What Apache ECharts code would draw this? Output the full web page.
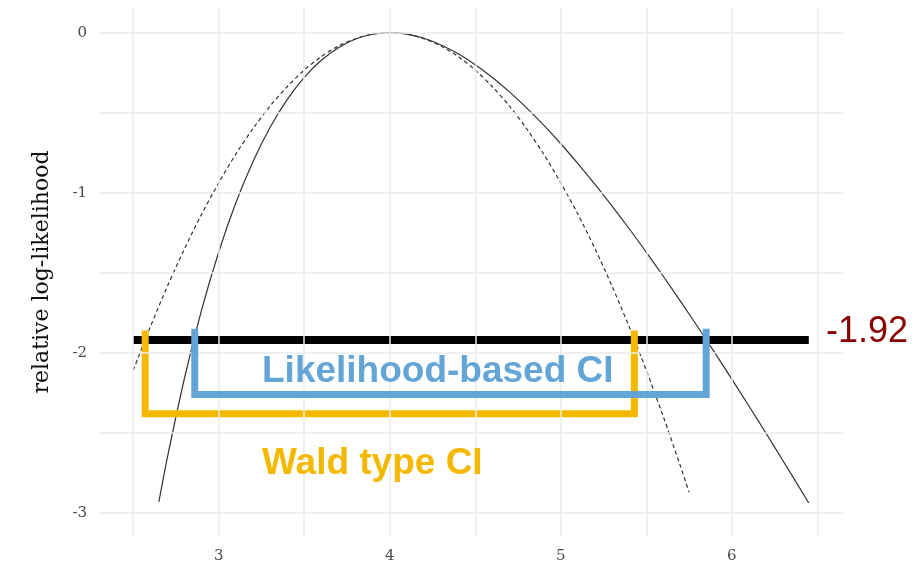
<!DOCTYPE html>
<html>
<head>
<meta charset="utf-8">
<script src="https://cdn.jsdelivr.net/npm/echarts@6/dist/echarts.min.js"></script>
<style>
  html, body { margin: 0; padding: 0; background: #fff; }
  #chart { width: 920px; height: 568px; }
</style>
</head>
<body>
<div id="chart"></div>
<script>
// Relative log-likelihood profile (solid)
const profileX = [2.65, 2.7, 2.8, 2.9, 3.0, 3.1, 3.2, 3.3, 3.4, 3.5, 3.6, 3.7, 3.8, 3.9, 4.0, 4.1, 4.2, 4.3, 4.4, 4.5, 4.6, 4.7, 4.8, 4.9, 5.0, 5.1, 5.2, 5.3, 5.4, 5.5, 5.6, 5.7, 5.8, 5.9, 6.0, 6.1, 6.2, 6.3, 6.45];
const profileY = [-2.931, -2.653, -2.157, -1.732, -1.370, -1.063, -0.806, -0.593, -0.419, -0.280, -0.173, -0.094, -0.040, -0.010, 0, -0.009, -0.035, -0.077, -0.132, -0.200, -0.280, -0.370, -0.470, -0.578, -0.694, -0.818, -0.948, -1.084, -1.225, -1.372, -1.523, -1.678, -1.837, -1.999, -2.164, -2.332, -2.502, -2.675, -2.938];

// Quadratic approximation (dashed)
const quadX = [2.5, 2.6, 2.7, 2.8, 2.9, 3.0, 3.1, 3.2, 3.3, 3.4, 3.5, 3.6, 3.7, 3.8, 3.9, 4.0, 4.1, 4.2, 4.3, 4.4, 4.5, 4.6, 4.7, 4.8, 4.9, 5.0, 5.1, 5.2, 5.3, 5.4, 5.5, 5.6, 5.7, 5.75];
const quadY = [-2.109, -1.838, -1.584, -1.350, -1.134, -0.938, -0.759, -0.600, -0.459, -0.338, -0.234, -0.150, -0.084, -0.038, -0.009, 0, -0.009, -0.038, -0.084, -0.150, -0.234, -0.338, -0.459, -0.600, -0.759, -0.938, -1.134, -1.350, -1.584, -1.838, -2.109, -2.400, -2.709, -2.871];

// Cut-off level
const cutoff = -1.92;
const cutoffRange = [2.5, 6.45];

// Interval brackets: [lower, upper], [top, bottom]
const waldCI = [2.57, 5.43];
const waldLevels = [-1.86, -2.38];
const likCI = [2.86, 5.85];
const likLevels = [-1.85, -2.26];

// Tick labels and grid positions
const xTicks = [3, 4, 5, 6];
const yTicks = [0, -1, -2, -3];
const xGrid = [2.5, 3, 3.5, 4, 4.5, 5, 5.5, 6, 6.5];
const yGrid = [0, -0.5, -1, -1.5, -2, -2.5, -3];

const zip = (xs, ys) => xs.map((x, i) => [x, ys[i]]);
const bracket = (xs, lv) => [[xs[0], lv[0]], [xs[0], lv[1]], [xs[1], lv[1]], [xs[1], lv[0]]];

const gridStyle = { color: '#ebebeb', width: 1.5, type: 'solid' };
const serif = '"DejaVu Serif", "Liberation Serif", serif';
const sans = '"Liberation Sans", Arial, sans-serif';

const chart = echarts.init(document.getElementById('chart'));
chart.setOption({
  animation: false,
  backgroundColor: '#ffffff',
  grid: { left: 99, right: 77, top: 7, bottom: 31 },
  xAxis: {
    type: 'value', min: 2.3, max: 6.65,
    axisLine: { show: false }, axisTick: { show: false }, splitLine: { show: false },
    axisLabel: { customValues: xTicks, color: '#4a4a4a', fontFamily: serif, fontSize: 15, margin: 12 }
  },
  yAxis: {
    type: 'value', min: -3.15, max: 0.16,
    name: 'relative log-likelihood', nameLocation: 'middle', nameRotate: 90, nameGap: 46,
    nameTextStyle: { fontFamily: serif, fontSize: 22, color: '#111' },
    axisLine: { show: false }, axisTick: { show: false }, splitLine: { show: false },
    axisLabel: { customValues: yTicks, color: '#4a4a4a', fontFamily: serif, fontSize: 15, margin: 12 }
  },
  series: [
    {
      // panel grid lines
      type: 'line', data: [], silent: true, z: 1,
      markLine: {
        silent: true, symbol: 'none', label: { show: false }, lineStyle: gridStyle,
        data: xGrid.map(v => ({ xAxis: v })).concat(yGrid.map(v => ({ yAxis: v })))
      }
    },
    {
      type: 'line', data: zip(quadX, quadY), smooth: 0.3, symbol: 'none', z: 2,
      lineStyle: { color: '#333', width: 1.2, type: [4, 3] }
    },
    {
      type: 'line', data: zip(profileX, profileY), smooth: 0.3, symbol: 'none', z: 2,
      lineStyle: { color: '#333', width: 1.2 }
    },
    {
      type: 'line', data: [[cutoffRange[0], cutoff], [cutoffRange[1], cutoff]], symbol: 'none', z: 3,
      lineStyle: { color: '#000', width: 8, cap: 'butt' }
    },
    {
      type: 'line', data: bracket(waldCI, waldLevels), symbol: 'none', z: 4,
      lineStyle: { color: '#f5b800', width: 7, cap: 'butt', join: 'miter' }
    },
    {
      type: 'line', data: bracket(likCI, likLevels), symbol: 'none', z: 5,
      lineStyle: { color: '#64a5d7', width: 7, cap: 'butt', join: 'miter' }
    }
  ],
  graphic: [
    {
      type: 'text', left: 826, top: 314, z: 10,
      style: { text: '-1.92', fill: '#8b0000', font: '36px ' + sans }
    },
    {
      type: 'text', left: 262, top: 353, z: 10,
      style: { text: 'Likelihood-based CI', fill: '#64a5d7', font: 'bold 37px ' + sans }
    },
    {
      type: 'text', left: 262, top: 445, z: 10,
      style: { text: 'Wald type CI', fill: '#f5b800', font: 'bold 37px ' + sans }
    }
  ]
});
</script>
</body>
</html>
